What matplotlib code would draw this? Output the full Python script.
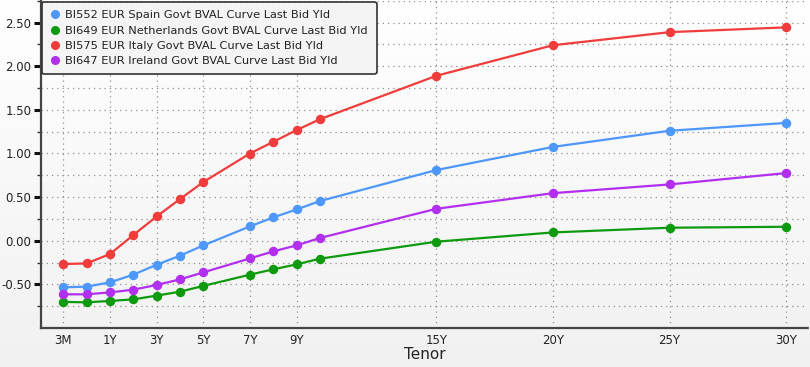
import numpy as np
import matplotlib
matplotlib.use("Agg")
import matplotlib.pyplot as plt

# x positions of tenors on the chart (3M and 6M plotted one step apart before 1Y)
tenor_pos = [-1, 0, 1, 2, 3, 4, 5, 7, 8, 9, 10, 15, 20, 25, 30]
tick_pos = [-1, 1, 3, 5, 7, 9, 15, 20, 25, 30]
tick_labels = ["3M", "1Y", "3Y", "5Y", "7Y", "9Y", "15Y", "20Y", "25Y", "30Y"]

spain = [-0.534, -0.526, -0.477, -0.389, -0.275, -0.172, -0.054, 0.164, 0.267, 0.358, 0.454, 0.81, 1.075, 1.26, 1.35]
netherlands = [-0.701, -0.706, -0.69, -0.672, -0.629, -0.584, -0.518, -0.389, -0.328, -0.271, -0.206, -0.011, 0.095, 0.149, 0.16]
italy = [-0.267, -0.26, -0.152, 0.065, 0.278, 0.477, 0.672, 0.999, 1.133, 1.267, 1.392, 1.89, 2.24, 2.39, 2.445]
ireland = [-0.614, -0.614, -0.592, -0.561, -0.507, -0.443, -0.363, -0.203, -0.122, -0.054, 0.031, 0.366, 0.545, 0.645, 0.775]

series = [
    ("BI552 EUR Spain Govt BVAL Curve Last Bid Yld", spain, "#4d97ff"),
    ("BI649 EUR Netherlands Govt BVAL Curve Last Bid Yld", netherlands, "#0e9a0e"),
    ("BI575 EUR Italy Govt BVAL Curve Last Bid Yld", italy, "#f23c3c"),
    ("BI647 EUR Ireland Govt BVAL Curve Last Bid Yld", ireland, "#b32ff0"),
]

fig = plt.figure(figsize=(8.1, 3.67), dpi=100)
# background gradient
bg = fig.add_axes([0, 0, 1, 1], zorder=-10)
grad = np.linspace(1.0, 0.0, 256).reshape(-1, 1)
bg.imshow(grad, aspect="auto", cmap=matplotlib.colors.LinearSegmentedColormap.from_list("g", ["#f1f1f1", "#ffffff"]),
          extent=[0, 1, 0, 1])
bg.axis("off")

ax = fig.add_axes([41/810, 39/367, (808-41)/810, 1 - 39/367 - 0.002])
ax.set_facecolor("none")

for name, vals, col in series:
    ax.plot(tenor_pos, vals, color=col, lw=1.6, marker="o", ms=5.8, mec=col, mfc=col,
            label=name, zorder=3)

ax.set_xlim(-1.96, 30.94)
ax.set_ylim(-1.0, 2.75)

ax.set_xticks(tick_pos)
ax.set_xticklabels(tick_labels, fontsize=8.5, color="#222")
ax.tick_params(axis="x", length=0, pad=4)

ax.set_yticks(np.arange(-0.5, 2.51, 0.5))
ax.set_yticklabels([f"{v:.2f}" for v in np.arange(-0.5, 2.51, 0.5)], fontsize=8.5, color="#222")
ax.set_yticks(np.arange(-0.75, 2.76, 0.25), minor=True)
ax.tick_params(axis="y", which="major", length=5, width=2.2, color="#111", pad=2)
ax.tick_params(axis="y", which="minor", length=3, width=1, color="#333")

grid_kw = dict(color="#909090", lw=0.9, linestyle=(0, (1, 3.2)))
for y in np.arange(-0.75, 2.76, 0.25):
    ax.axhline(y, zorder=1, **grid_kw)
for x in tick_pos:
    ax.axvline(x, zorder=1, **grid_kw)

for s in ["top", "right"]:
    ax.spines[s].set_visible(False)
ax.spines["left"].set_color("#444")
ax.spines["left"].set_linewidth(1.6)
ax.spines["bottom"].set_color("#444")
ax.spines["bottom"].set_linewidth(1.6)
ax.spines["bottom"].set_linestyle((0, (1, 1)))

ax.set_xlabel("Tenor", fontsize=11, color="#222", labelpad=0)

leg = ax.legend(loc="upper left", bbox_to_anchor=(0.0, 1.0), fontsize=8.2, frameon=True,
                handlelength=0.8, handletextpad=0.5, borderpad=0.75, labelspacing=0.45,
                fancybox=True, borderaxespad=0.1)
for h in leg.legend_handles:
    h.set_linestyle("None")
    h.set_markersize(5.5)
leg.get_frame().set_edgecolor("#333")
leg.get_frame().set_facecolor("#f4f4f4")
leg.get_frame().set_alpha(1)
leg.get_frame().set_linewidth(1.2)
for t in leg.get_texts():
    t.set_color("#222")

fig.savefig("out.png", dpi=100)
